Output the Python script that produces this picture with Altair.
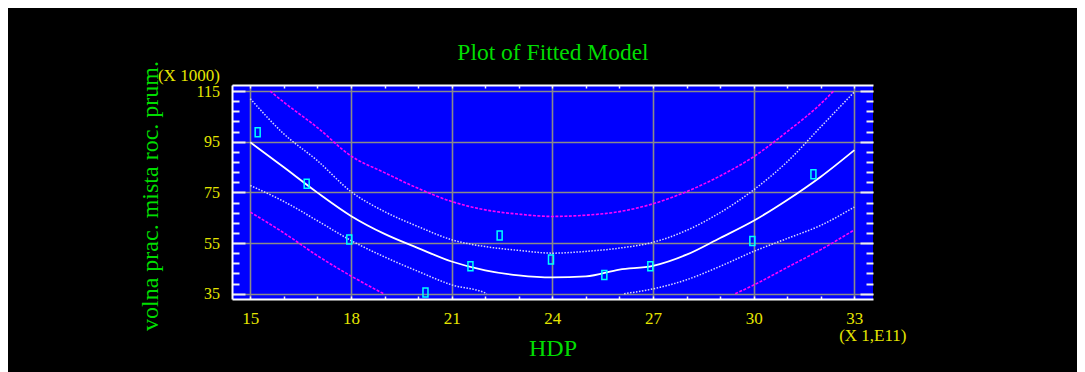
import altair as alt
import pandas as pd

# ---- data (y in thousands, x in 1e11) ----
obs_x = [15.22, 16.68, 17.95, 20.22, 21.56, 22.43, 23.96, 25.55, 26.92, 29.96, 31.78]
obs_y = [98.7, 78.4, 56.4, 35.5, 45.8, 58.0, 48.5, 42.4, 45.8, 55.8, 82.2]

fit_x = [15, 16, 17, 18, 19, 20, 21, 22, 23, 24, 25, 26, 27, 28, 29, 30, 31, 32, 33]
fit_y = [94.8, 84.9, 74.9, 65.7, 58.6, 53.0, 47.7, 44.2, 42.2, 41.4, 41.8, 44.5,
         46.0, 50.4, 57.0, 63.8, 72.0, 81.2, 91.7]

ci_hi_x = [15, 16, 17, 18, 19, 20, 21, 22, 23, 24, 25, 26, 27, 28, 29, 30, 31, 32, 33]
ci_hi_y = [112.0, 98.1, 87.5, 75.3, 67.4, 61.5, 56.3, 53.6, 52.1, 51.0, 51.7, 53.0,
           55.3, 60.0, 67.0, 76.0, 87.1, 100.9, 114.7]

ci_lo_left_x = [15, 16, 17, 18, 19, 20, 21, 22, 22.05]
ci_lo_left_y = [77.7, 71.4, 63.8, 56.0, 49.5, 43.8, 38.5, 35.3, 35.0]
ci_lo_right_x = [26.14, 27, 28, 29, 30, 31, 32, 33]
ci_lo_right_y = [35.0, 36.9, 40.5, 45.8, 51.7, 56.8, 62.0, 69.2]

pi_hi_x = [15.59, 16, 17, 18, 19, 20, 21, 22, 23, 24, 25, 26, 27, 28, 29, 30, 31, 32, 32.38]
pi_hi_y = [115.0, 110.6, 100.6, 89.4, 82.8, 76.6, 71.4, 68.1, 66.4, 65.5, 66.0, 67.4,
           70.5, 75.3, 81.5, 89.1, 99.0, 110.0, 115.0]

pi_lo_left_x = [15, 16, 17, 18, 18.97]
pi_lo_left_y = [67.2, 59.0, 50.0, 42.0, 35.0]
pi_lo_right_x = [29.45, 30, 31, 32, 33]
pi_lo_right_y = [35.0, 38.4, 45.4, 52.4, 60.2]

x_major = [15, 18, 21, 24, 27, 30, 33]
x_minor = list(range(15, 34))
y_major = [35, 55, 75, 95, 115]
y_minor = [v for v in range(35, 116, 4) if v not in y_major]

x_domain = [14.455, 33.555]
y_domain = [32.9, 117.4]

# ---- styling ----
SERIF = "Liberation Serif"
YEL = "#e6e600"
GREEN = "#00dd00"
GRAY = "#8a8a8a"
TICK = "#f0f0f0"
W, H = 641, 214


def frame(xs, ys, seg=0):
    return pd.DataFrame({"x": xs, "y": ys, "seg": [seg] * len(xs)})


fit_df = frame(fit_x, fit_y)
ci_hi_df = frame(ci_hi_x, ci_hi_y)
ci_lo_df = pd.concat([frame(ci_lo_left_x, ci_lo_left_y, 0), frame(ci_lo_right_x, ci_lo_right_y, 1)])
pi_hi_df = frame(pi_hi_x, pi_hi_y)
pi_lo_df = pd.concat([frame(pi_lo_left_x, pi_lo_left_y, 0), frame(pi_lo_right_x, pi_lo_right_y, 1)])
obs_df = pd.DataFrame({"x": obs_x, "y": obs_y})

xs = alt.Scale(domain=x_domain, nice=False, zero=False)
ys = alt.Scale(domain=y_domain, nice=False, zero=False)

# axes
ax_x_main = alt.Axis(orient="bottom", values=x_major, format="d", labelColor=YEL, labelFont=SERIF,
                     labelFontSize=17, labelPadding=24.5, labelBaseline="alphabetic", labelFlush=False,
                     labelOverlap=False, ticks=False, grid=True, gridColor=GRAY, gridWidth=1.6,
                     domain=True, domainColor="white", domainWidth=2,
                     title="HDP", titleColor=GREEN, titleFont=SERIF, titleFontSize=24,
                     titleFontWeight="normal", titleX=W / 2, titleY=56, titleBaseline="alphabetic",
                     titleAlign="center")
ax_y_main = alt.Axis(orient="left", values=y_major, format="d", labelColor=YEL, labelFont=SERIF,
                     labelFontSize=16, labelPadding=12.5, labelFlush=False, labelOverlap=False,
                     ticks=False, grid=True, gridColor=GRAY, gridWidth=1.6,
                     domain=True, domainColor="white", domainWidth=2,
                     title="volna prac. mista roc. prum.", titleColor=GREEN, titleFont=SERIF,
                     titleFontSize=24, titleFontWeight="normal", titleAngle=270, titleX=-74.5,
                     titleY=110.5, titleBaseline="alphabetic", titleAlign="center")
ax_x_bt = alt.Axis(orient="bottom", offset=-3, values=x_minor, tickSize=3, tickColor=TICK, tickWidth=1.5,
                   labels=False, domain=False, grid=False,
                   title="(X 1,E11)", titleColor=YEL, titleFont=SERIF, titleFontSize=17,
                   titleFontWeight="normal", titleX=640.3, titleY=44.5, titleBaseline="alphabetic",
                   titleAlign="center")
ax_x_tt = alt.Axis(orient="top", offset=-3, values=x_minor, tickSize=3, tickColor=TICK, tickWidth=1.5,
                   labels=False, domain=False, grid=False,
                   title="(X 1000)", titleColor=YEL, titleFont=SERIF, titleFontSize=17,
                   titleFontWeight="normal", titleX=-12.7, titleY=-8, titleBaseline="alphabetic",
                   titleAlign="right")
ax_x_top = alt.Axis(orient="top", values=x_major, ticks=False, labels=False, grid=False,
                    domain=True, domainColor="white", domainWidth=2,
                    title="Plot of Fitted Model", titleColor=GREEN, titleFont=SERIF, titleFontSize=23.5,
                    titleFontWeight="normal", titleX=W / 2, titleY=-26, titleBaseline="alphabetic",
                    titleAlign="center")
ax_y_lmaj = alt.Axis(orient="left", offset=-13, values=y_major, tickSize=13, tickColor=TICK, tickWidth=2,
                     labels=False, domain=False, grid=False, title=None)
ax_y_lmin = alt.Axis(orient="left", offset=-7, values=y_minor, tickSize=7, tickColor=TICK, tickWidth=2,
                     labels=False, domain=False, grid=False, title=None)
ax_y_rmaj = alt.Axis(orient="right", offset=-13, values=y_major, tickSize=13, tickColor=TICK, tickWidth=2,
                     labels=False, domain=False, grid=False, title=None)
ax_y_rmin = alt.Axis(orient="right", offset=-7, values=y_minor, tickSize=7, tickColor=TICK, tickWidth=2,
                     labels=False, domain=False, grid=False, title=None)


def line(df, color, width, dash, xaxis, yaxis):
    kw = dict(color=color, strokeWidth=width, interpolate="monotone")
    if dash:
        kw["strokeDash"] = dash
    enc = dict(
        x=alt.X("x:Q", scale=xs, axis=xaxis),
        y=alt.Y("y:Q", scale=ys, axis=yaxis),
        detail="seg:N",
    )
    return alt.Chart(df).mark_line(**kw).encode(**enc)


pi_hi_l = line(pi_hi_df, "#ff00ff", 1.6, [3, 1.5], ax_x_top, ax_y_rmaj)
pi_lo_l = line(pi_lo_df, "#ff00ff", 1.6, [3, 1.5], None, ax_y_rmin)
ci_hi_l = line(ci_hi_df, "#d8d8ff", 1.5, [1.5, 1.5], ax_x_bt, ax_y_lmaj)
ci_lo_l = line(ci_lo_df, "#d8d8ff", 1.5, [1.5, 1.5], ax_x_tt, ax_y_lmin)
fit_l = line(fit_df, "#ffffff", 1.8, None, ax_x_main, ax_y_main)

pts = alt.Chart(obs_df).mark_point(
    shape="M-0.5,-0.9L0.5,-0.9L0.5,0.9L-0.5,0.9Z", size=100, filled=False,
    color="#00ffff", strokeWidth=1.5, opacity=1
).encode(
    x=alt.X("x:Q", scale=xs, axis=None),
    y=alt.Y("y:Q", scale=ys, axis=None),
)

chart = alt.layer(pi_hi_l, pi_lo_l, ci_hi_l, ci_lo_l, fit_l, pts).resolve_axis(
    x="independent", y="independent"
).properties(
    width=W, height=H,
    background="black",
    autosize=alt.AutoSizeParams(type="none"),
    padding={"left": 224, "top": 77, "right": 204, "bottom": 73},
).configure_view(fill="#0000ff", strokeWidth=0)

chart.save("out.html", embed_options={"renderer": "svg", "actions": False})
